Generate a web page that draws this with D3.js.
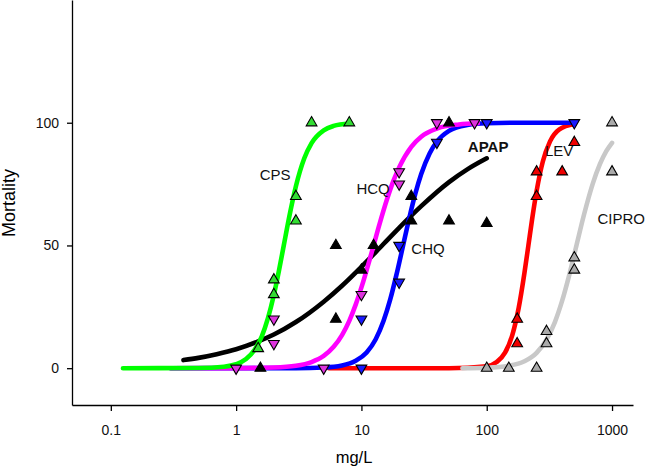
<!DOCTYPE html>
<html>
<head>
<meta charset="utf-8">
<script src="https://cdn.jsdelivr.net/npm/d3@7"></script>
<style>
  body { margin: 0; background: #fff; }
  svg text { font-family: "Liberation Sans", Arial, sans-serif; }
</style>
</head>
<body>
<div id="chart"></div>
<script>
// fitted curves: [mg/L, mortality]
var cpsCurve = [[0.125,0],[0.5,0.06],[0.8,0.6],[1,1.6],[1.2,3.7],[1.4,7.4],[1.6,12.9],[1.8,20.6],[2,29.8],[2.2,39.9],[2.4,50],[2.7,63.5],[3,74.1],[3.5,85.5],[4,91.7],[5,96.9],[6,98.7],[8,99.7]];
var hcqCurve = [[0.3,0],[1,0.03],[2,0.3],[3,1],[4,2.5],[5,5],[6,8.7],[7,13.5],[8,19.3],[9,25.9],[10,32.9],[12,46.7],[14,59],[16,68.8],[18,76.3],[20,81.8],[25,90.2],[30,94.3],[40,97.6],[60,99.3],[85,99.8]];
var chqCurve = [[0.3,0],[3,0.04],[5,0.3],[7,1.1],[9,3],[11,6.4],[13,11.8],[15,19.2],[17,28.1],[19,37.9],[21.5,50],[24,60.8],[27,71.3],[30,79.1],[35,87.5],[40,92.3],[50,96.7],[70,99.1],[100,99.8],[200,100],[500,100]];
var apapCurve = [[0.38,3.3],[0.5,4.2],[0.7,5.7],[1,7.7],[1.5,10.9],[2,13.7],[3,18.8],[5,27.1],[7,33.6],[10,41.3],[15,50.6],[20,57.2],[30,66],[50,75.8],[70,81],[100,85.5]];
var levCurve = [[5.5,0],[50,0],[100,0.8],[120,2.5],[140,6.3],[160,13.5],[180,24.6],[200,38.8],[215,50],[230,60.5],[250,72.1],[280,84.1],[320,92.4],[380,97.3],[500,99.5]];
var ciproCurve = [[64,0],[100,0.2],[150,1],[200,2.8],[250,6.2],[300,11.6],[350,18.8],[400,27.5],[450,36.9],[520,50],[600,62.9],[700,75],[800,83.1],[900,88.4],[1000,91.8]];

// observed points: [mg/L, mortality]
var cpsPts = [[4,100],[8,100],[3,70],[3,60],[2,36],[2,30],[1.5,8]];
var hcqPts = [[2,20],[2,10],[1,0],[5,0],[10,30],[20,80],[20,75],[40,100],[80,100]];
var chqPts = [[10,20],[10,0],[20,50],[20,35],[40,92],[100,100],[500,100]];
var apapPts = [[6.25,50],[6.25,20],[12.5,50],[10,40],[25,70],[25,60],[50,60],[100,59],[50,100],[1.5625,0]];
var levPts = [[175,20],[175,10],[250,80],[250,70],[400,80],[500,92]];
var ciproPts = [[1000,100],[1000,80],[500,45],[500,40],[300,15],[300,10],[100,0],[150,0],[250,0]];

var xTicks = [0.1, 1, 10, 100, 1000];
var yTicks = [0, 50, 100];

// curve labels: [text, mg/L, mortality]
var labels = [['CPS',2.05,78.8],['HCQ',12.4,73],['CHQ',34,48.6],['APAP',102.6,90.2],['LEV',378,88.6],['CIPRO',1183,60.8]];

var width = 645, height = 471;

var svg = d3.select('#chart')
    .append('svg')
    .attr('width', width)
    .attr('height', height);

var x = d3.scaleLog().domain([0.049, 1470]).range([72, 633]);
var y = d3.scaleLinear().domain([-15, 150]).range([405, 0]);

var xAxis = svg.append('g')
    .attr('transform', 'translate(0,405)')
    .call(d3.axisBottom(x).tickValues(xTicks).tickFormat(d3.format('~g')).tickSize(6).tickSizeOuter(0).tickPadding(14));

var yAxis = svg.append('g')
    .attr('transform', 'translate(72,0)')
    .call(d3.axisLeft(y).tickValues(yTicks).tickSize(5).tickSizeOuter(0).tickPadding(8));

svg.selectAll('.domain, .tick line').attr('stroke', '#000').attr('stroke-width', 1.3);
svg.selectAll('.tick text').attr('font-size', 14).attr('fill', '#111')
    .attr('font-family', '"Liberation Sans", Arial, sans-serif');

svg.append('text')
    .attr('x', 354)
    .attr('y', 463)
    .attr('text-anchor', 'middle')
    .attr('font-size', 16.5)
    .text('mg/L');

svg.append('text')
    .attr('transform', 'translate(15,203)rotate(-90)')
    .attr('text-anchor', 'middle')
    .attr('font-size', 18)
    .text('Mortality');

var line = d3.line()
    .x(function(d) { return x(d[0]); })
    .y(function(d) { return y(d[1]); })
    .curve(d3.curveMonotoneX);

var curves = [
    [apapCurve, '#000000'],
    [levCurve, '#ff0000'],
    [chqCurve, '#0000ff'],
    [hcqCurve, '#ff00ff'],
    [cpsCurve, '#00ff00'],
    [ciproCurve, '#c8c8c8']
];

curves.forEach(function(c) {
    svg.append('path')
        .datum(c[0])
        .attr('d', line)
        .attr('fill', 'none')
        .attr('stroke', c[1])
        .attr('stroke-width', 4.6)
        .attr('stroke-linecap', 'round');
});

var tri = d3.symbol().type(d3.symbolTriangle).size(50);

var markers = [
    [cpsPts, '#33dd33', false],
    [hcqPts, '#dd33dd', true],
    [chqPts, '#1a1aff', true],
    [apapPts, '#000000', false],
    [levPts, '#ee0000', false],
    [ciproPts, '#aaaaaa', false]
];

markers.forEach(function(m) {
    svg.append('g')
        .selectAll('path')
        .data(m[0])
        .enter()
        .append('path')
        .attr('d', tri)
        .attr('transform', function(d) {
            return 'translate(' + x(d[0]) + ',' + y(d[1]) + ')' + (m[2] ? 'rotate(180)' : '');
        })
        .attr('fill', m[1])
        .attr('stroke', '#000')
        .attr('stroke-width', 1.1);
});

svg.append('g')
    .selectAll('text')
    .data(labels)
    .enter()
    .append('text')
    .attr('x', function(d) { return x(d[1]); })
    .attr('y', function(d) { return y(d[2]) + 5; })
    .attr('text-anchor', 'middle')
    .attr('font-size', 15)
    .attr('font-weight', function(d) { return d[0] === 'APAP' ? 'bold' : 'normal'; })
    .attr('fill', '#111')
    .text(function(d) { return d[0]; });
</script>
</body>
</html>
